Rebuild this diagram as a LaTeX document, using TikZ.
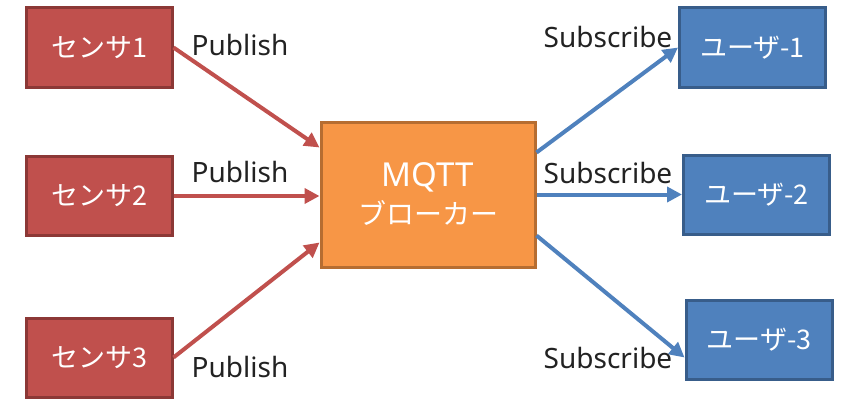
\documentclass[tikz,border=0pt]{standalone}
\usepackage{fontspec}
\setmainfont{Noto Sans}
\newfontfamily\jpfont{Noto Sans CJK JP}
\usetikzlibrary{arrows.meta}
\definecolor{sensorfill}{HTML}{C0504D}
\definecolor{sensorline}{HTML}{8C3836}
\definecolor{brokerfill}{HTML}{F79646}
\definecolor{brokerline}{HTML}{B66D31}
\definecolor{userfill}{HTML}{4F81BD}
\definecolor{userline}{HTML}{385D8A}
\definecolor{labeltext}{HTML}{222222}
\tikzset{
  box/.style={draw, line width=3pt, inner sep=0pt, text=white,
    font=\jpfont\fontsize{27}{32}\selectfont, align=center},
  sensorbox/.style={box, fill=sensorfill, draw=sensorline,
    minimum width=146pt, minimum height=79pt},
  userbox/.style={box, fill=userfill, draw=userline,
    minimum width=146pt, minimum height=79pt},
  brokerbox/.style={box, fill=brokerfill, draw=brokerline,
    minimum width=214pt, minimum height=145pt},
  pubarrow/.style={draw=sensorfill, line width=4pt,
    -{Triangle[length=15pt,width=15pt]}},
  subarrow/.style={draw=userfill, line width=4pt,
    -{Triangle[length=15pt,width=15pt]}},
  msglabel/.style={text=labeltext, inner sep=0pt, anchor=base,
    font=\fontsize{28}{32}\selectfont}
}
\begin{document}
\begin{tikzpicture}[x=1pt, y=-1pt]
  \useasboundingbox (0,0) rectangle (845,404);

  % publishers
  \node[sensorbox] (s1) at (99,47.5)  {センサ1};
  \node[sensorbox] (s2) at (99,196)   {センサ2};
  \node[sensorbox] (s3) at (99,357.5) {センサ3};

  % broker
  \node[brokerbox] (broker) at (428,194.5)
    {{\rmfamily\fontsize{33}{36}\selectfont MQTT}\\[6pt]
     {\jpfont\fontsize{28}{32}\selectfont ブローカー}};

  % subscribers
  \node[userbox] (u1) at (752.5,47.5) {ユーザ-1};
  \node[userbox] (u2) at (756.5,194.5) {ユーザ-2};
  \node[userbox] (u3) at (759,339.5)  {ユーザ-3};

  % publish connectors
  \draw[pubarrow] (s1.east) -- ([yshift=47pt]broker.west);
  \draw[pubarrow] (s2.east) -- (s2.east -| broker.west);
  \draw[pubarrow] (s3.east) -- ([yshift=-48pt]broker.west);

  % subscribe connectors
  \draw[subarrow] ([yshift=42pt]broker.east) -- (u1.west);
  \draw[subarrow] (broker.east) -- (u2.west);
  \draw[subarrow] ([yshift=-41pt]broker.east) -- ([yshift=-18pt]u3.west);

  % labels
  \node[msglabel] (p1) at (240,56)  {Publish};
  \node[msglabel] (p2) at (240,182) {Publish};
  \node[msglabel] (p3) at (240,377) {Publish};
  \node[msglabel] (q1) at (608,48)  {Subscribe};
  \node[msglabel] (q2) at (608,183) {Subscribe};
  \node[msglabel] (q3) at (608,368) {Subscribe};
\end{tikzpicture}
\end{document}
